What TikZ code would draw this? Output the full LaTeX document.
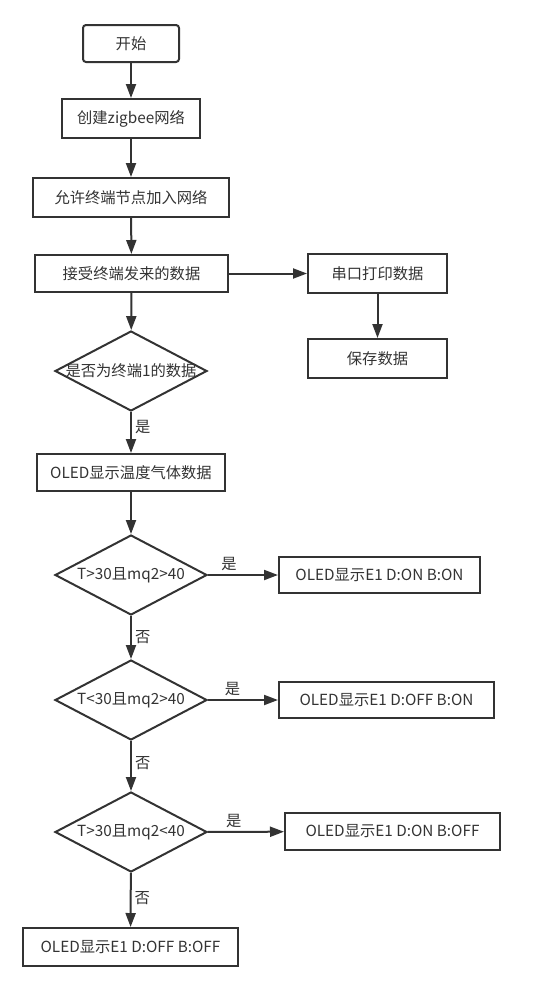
\documentclass[tikz,border=0pt]{standalone}
\usepackage{fontspec}
\setmainfont{Noto Sans CJK SC}
\usetikzlibrary{shapes.geometric,arrows.meta}
\definecolor{ink}{HTML}{333333}

\tikzset{
  box/.style={draw=ink,line width=2pt,minimum height=37pt,inner sep=0pt},
  cond/.style={diamond,draw=ink,line width=2pt,minimum width=152pt,minimum height=80pt,inner sep=0pt},
  arr/.style={draw=ink,line width=2pt,-{Triangle[length=14pt,width=10pt]}},
  tag/.style={inner sep=3pt}
}

\begin{document}
\begin{tikzpicture}[x=1pt,y=-1pt,text=ink,font=\fontsize{15.3}{18}\selectfont]
            \useasboundingbox (0,0) rectangle (545,989);

            \node[box,rounded corners=3pt,minimum width=96pt] (start) at (131,43.5) {开始};
            \node[box,minimum width=138pt,minimum height=39pt] (create) at (131,118.5) {创建zigbee网络};
            \node[box,minimum width=196pt,minimum height=39pt] (allow) at (131,197.5) {允许终端节点加入网络};
            \node[box,minimum width=193pt] (recv) at (131.5,273.5) {接受终端发来的数据};
            \node[box,minimum width=139pt,minimum height=39pt] (serial) at (377.5,273.5) {串口打印数据};
            \node[box,minimum width=139pt,minimum height=39pt] (save) at (377.5,358.5) {保存数据};
            \node[cond,label={center:是否为终端1的数据}] (isone) at (131,371) {};
            \node[box,minimum width=188pt] (show) at (131,472.5) {OLED显示温度气体数据};

            \node[cond,label={center:T>30且mq2>40}] (condA) at (131,575) {};
            \node[box,minimum width=201pt,minimum height=36pt] (outA) at (379.5,575) {OLED显示E1 D:ON B:ON};
            \node[cond,label={center:T<30且mq2>40}] (condB) at (131,700) {};
            \node[box,minimum width=215pt,minimum height=36pt] (outB) at (386.5,700) {OLED显示E1 D:OFF B:ON};
            \node[cond,label={center:T>30且mq2<40}] (condC) at (131,832) {};
            \node[box,minimum width=215pt] (outC) at (392.5,831.5) {OLED显示E1 D:ON B:OFF};
            \node[box,minimum width=215pt,minimum height=38pt] (outD) at (130.5,947) {OLED显示E1 D:OFF B:OFF};

            \draw[arr] (start) -- (create);
            \draw[arr] (create) -- (allow);
            \draw[arr] (allow) -- (recv);
            \draw[arr] (recv) -- (serial);
            \draw[arr] (serial) -- (save);
            \draw[arr] (recv) -- (isone);
            \draw[arr] (isone) -- node[tag,right,pos=0.37] {是} (show);
            \draw[arr] (show) -- (condA);

            \draw[arr] (condA) -- node[tag,above,pos=0.3] {是} (outA);
            \draw[arr] (condA) -- node[tag,right,pos=0.48] {否} (condB);
            \draw[arr] (condB) -- node[tag,above,pos=0.35] {是} (outB);
            \draw[arr] (condB) -- node[tag,right,pos=0.44] {否} (condC);
            \draw[arr] (condC) -- node[tag,above,pos=0.34] {是} (outC);
            \draw[arr] (condC) -- node[tag,right,pos=0.46] {否} (outD);
        \end{tikzpicture}
\end{document}
